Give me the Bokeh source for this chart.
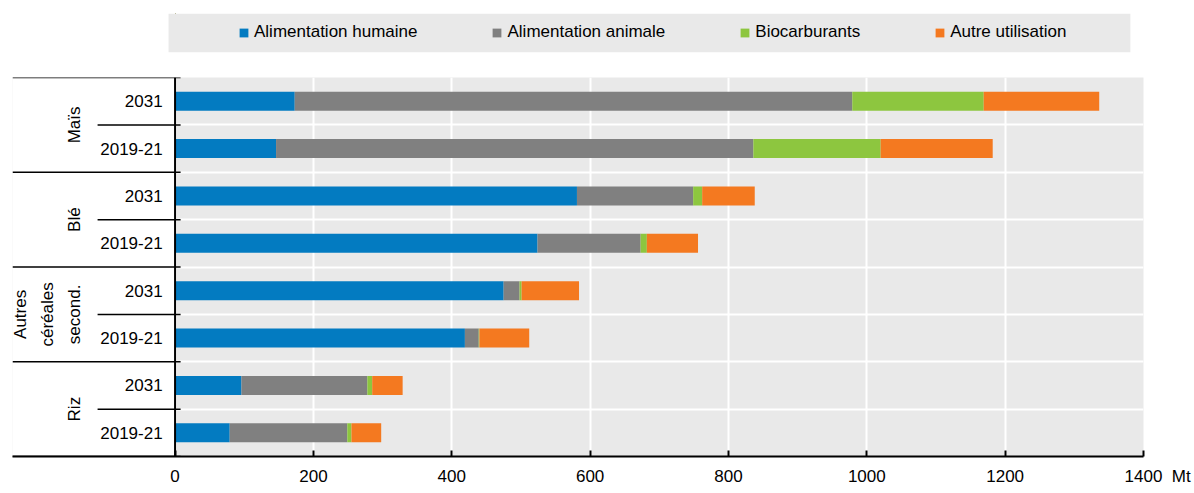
import numpy as np
from bokeh.plotting import figure
from bokeh.layouts import column
from bokeh.models import Range1d, FixedTicker, Legend, LegendItem, ColumnDataSource
from bokeh.embed import file_html
from bokeh.resources import INLINE
from bokeh.core.properties import value

# ---------------- data ----------------
groups = ["Maïs", "Blé", "Autres\ncéréales\nsecond.", "Riz"]
periods = ["2031", "2019-21"]
series = ["Alimentation humaine", "Alimentation animale", "Biocarburants", "Autre utilisation"]
colors = ["#037bc1", "#808080", "#8dc63f", "#f47920"]

# rows: Maïs 2031, Maïs 2019-21, Blé 2031, Blé 2019-21, Autres 2031, Autres 2019-21, Riz 2031, Riz 2019-21
humaine = [173, 146, 581, 524, 475, 419, 96, 79]
animale = [806, 690, 168, 149, 23, 20, 182, 170]
biocarb = [190, 184, 13, 9, 3, 1, 7, 6]
autre = [167, 162, 76, 74, 83, 72, 44, 43]

x_ticks = [0, 200, 400, 600, 800, 1000, 1200, 1400]
unit = "Mt"

# ---------------- layout helpers ----------------
FONT = "Liberation Sans"
FS = "17px"
BG = "#e9e9e9"
n_rows = len(groups) * len(periods)
row_y = [n_rows - i - 0.5 for i in range(n_rows)]
row_lbl = [periods[i % len(periods)] for i in range(n_rows)]
group_y = [n_rows - len(periods) * g - len(periods) / 2 for g in range(len(groups))]

x_range = Range1d(-235, 1400)
BL, BR = 12, 51

# ---------------- legend strip ----------------
leg = figure(width=1194, height=75, x_range=x_range, y_range=Range1d(0, 1),
             output_backend="svg", toolbar_location=None,
             x_axis_location=None, y_axis_location=None,
             min_border_left=BL, min_border_right=BR, min_border_top=13, min_border_bottom=23,
             background_fill_color="white", border_fill_color="white", outline_line_color=None)
leg.xgrid.visible = False
leg.ygrid.visible = False
leg.quad(left=-9.4, right=1381, bottom=0, top=1, fill_color=BG, line_color=None)
dummy = [leg.hbar(y=[5], left=[0], right=[1], height=0.1, fill_color=c, line_color=None)
         for c in colors]
legend = Legend(items=[LegendItem(label=s, renderers=[r]) for s, r in zip(series, dummy)],
                orientation="horizontal", location=(226, 10),
                background_fill_alpha=0, border_line_color=None,
                glyph_width=11, glyph_height=11, label_standoff=5, spacing=74,
                padding=0, margin=0, label_height=20,
                label_text_font=FONT, label_text_font_size=FS, label_text_color="black")
leg.add_layout(legend)

# ---------------- main chart ----------------
p = figure(width=1194, height=413,
           x_range=x_range, y_range=Range1d(0, n_rows),
           output_backend="svg", toolbar_location=None, y_axis_location=None,
           min_border_left=BL, min_border_right=BR, min_border_top=2, min_border_bottom=30,
           background_fill_color=BG, border_fill_color="white",
           outline_line_color=None)

p.xgrid.ticker = FixedTicker(ticks=x_ticks)
p.xgrid.grid_line_color = "white"
p.xgrid.grid_line_width = 2
p.ygrid.ticker = FixedTicker(ticks=list(range(n_rows + 1)))
p.ygrid.grid_line_color = "white"
p.ygrid.grid_line_width = 2

# white label area on the left
p.quad(left=x_range.start - 100, right=0, bottom=-1, top=n_rows + 1,
       fill_color="white", line_color=None)

# bars
src = ColumnDataSource(dict(y=row_y, h=humaine, a=animale, b=biocarb, o=autre))
p.hbar_stack(["h", "a", "b", "o"], y="y", height=0.4, color=colors,
             line_color=None, source=src)

# left black lines
gb = list(range(0, n_rows + 1, len(periods)))
sb = [v for v in range(n_rows + 1) if v not in gb]
p.segment(x0=x_range.start, x1=8, y0=gb, y1=gb, line_color="black", line_width=1.5)
p.segment(x0=-112, x1=8, y0=sb, y1=sb, line_color="black", line_width=1.5)
p.segment(x0=0, x1=0, y0=0, y1=n_rows, line_color="black", line_width=2)

# labels
p.text(x=-18, y=row_y, text=row_lbl, text_align="right", text_baseline="middle",
       text_font=value(FONT), text_font_size=FS, text_color="black")
p.text(x=-131, y=group_y, text=groups, angle=np.pi / 2, text_align="center",
       text_baseline="bottom", text_font=value(FONT), text_font_size=FS,
       text_color="black", text_line_height=1.42)

# x axis
ax = p.xaxis[0]
ax.ticker = FixedTicker(ticks=x_ticks)
ax.major_tick_in = 6
ax.major_tick_out = 0
ax.minor_tick_line_color = None
ax.axis_line_width = 2
ax.axis_line_color = "black"
ax.major_tick_line_color = "black"
ax.major_tick_line_width = 2
ax.major_label_text_font = FONT
ax.major_label_text_font_size = FS
ax.major_label_text_color = "black"
ax.major_label_standoff = 10
nb = "\u00a0"
ax.major_label_overrides = {x_ticks[-1]: nb * 6 + str(x_ticks[-1]) + nb * 2 + unit}

layout = column(leg, p, spacing=0)
open("out.html", "w").write(file_html(layout, INLINE))
